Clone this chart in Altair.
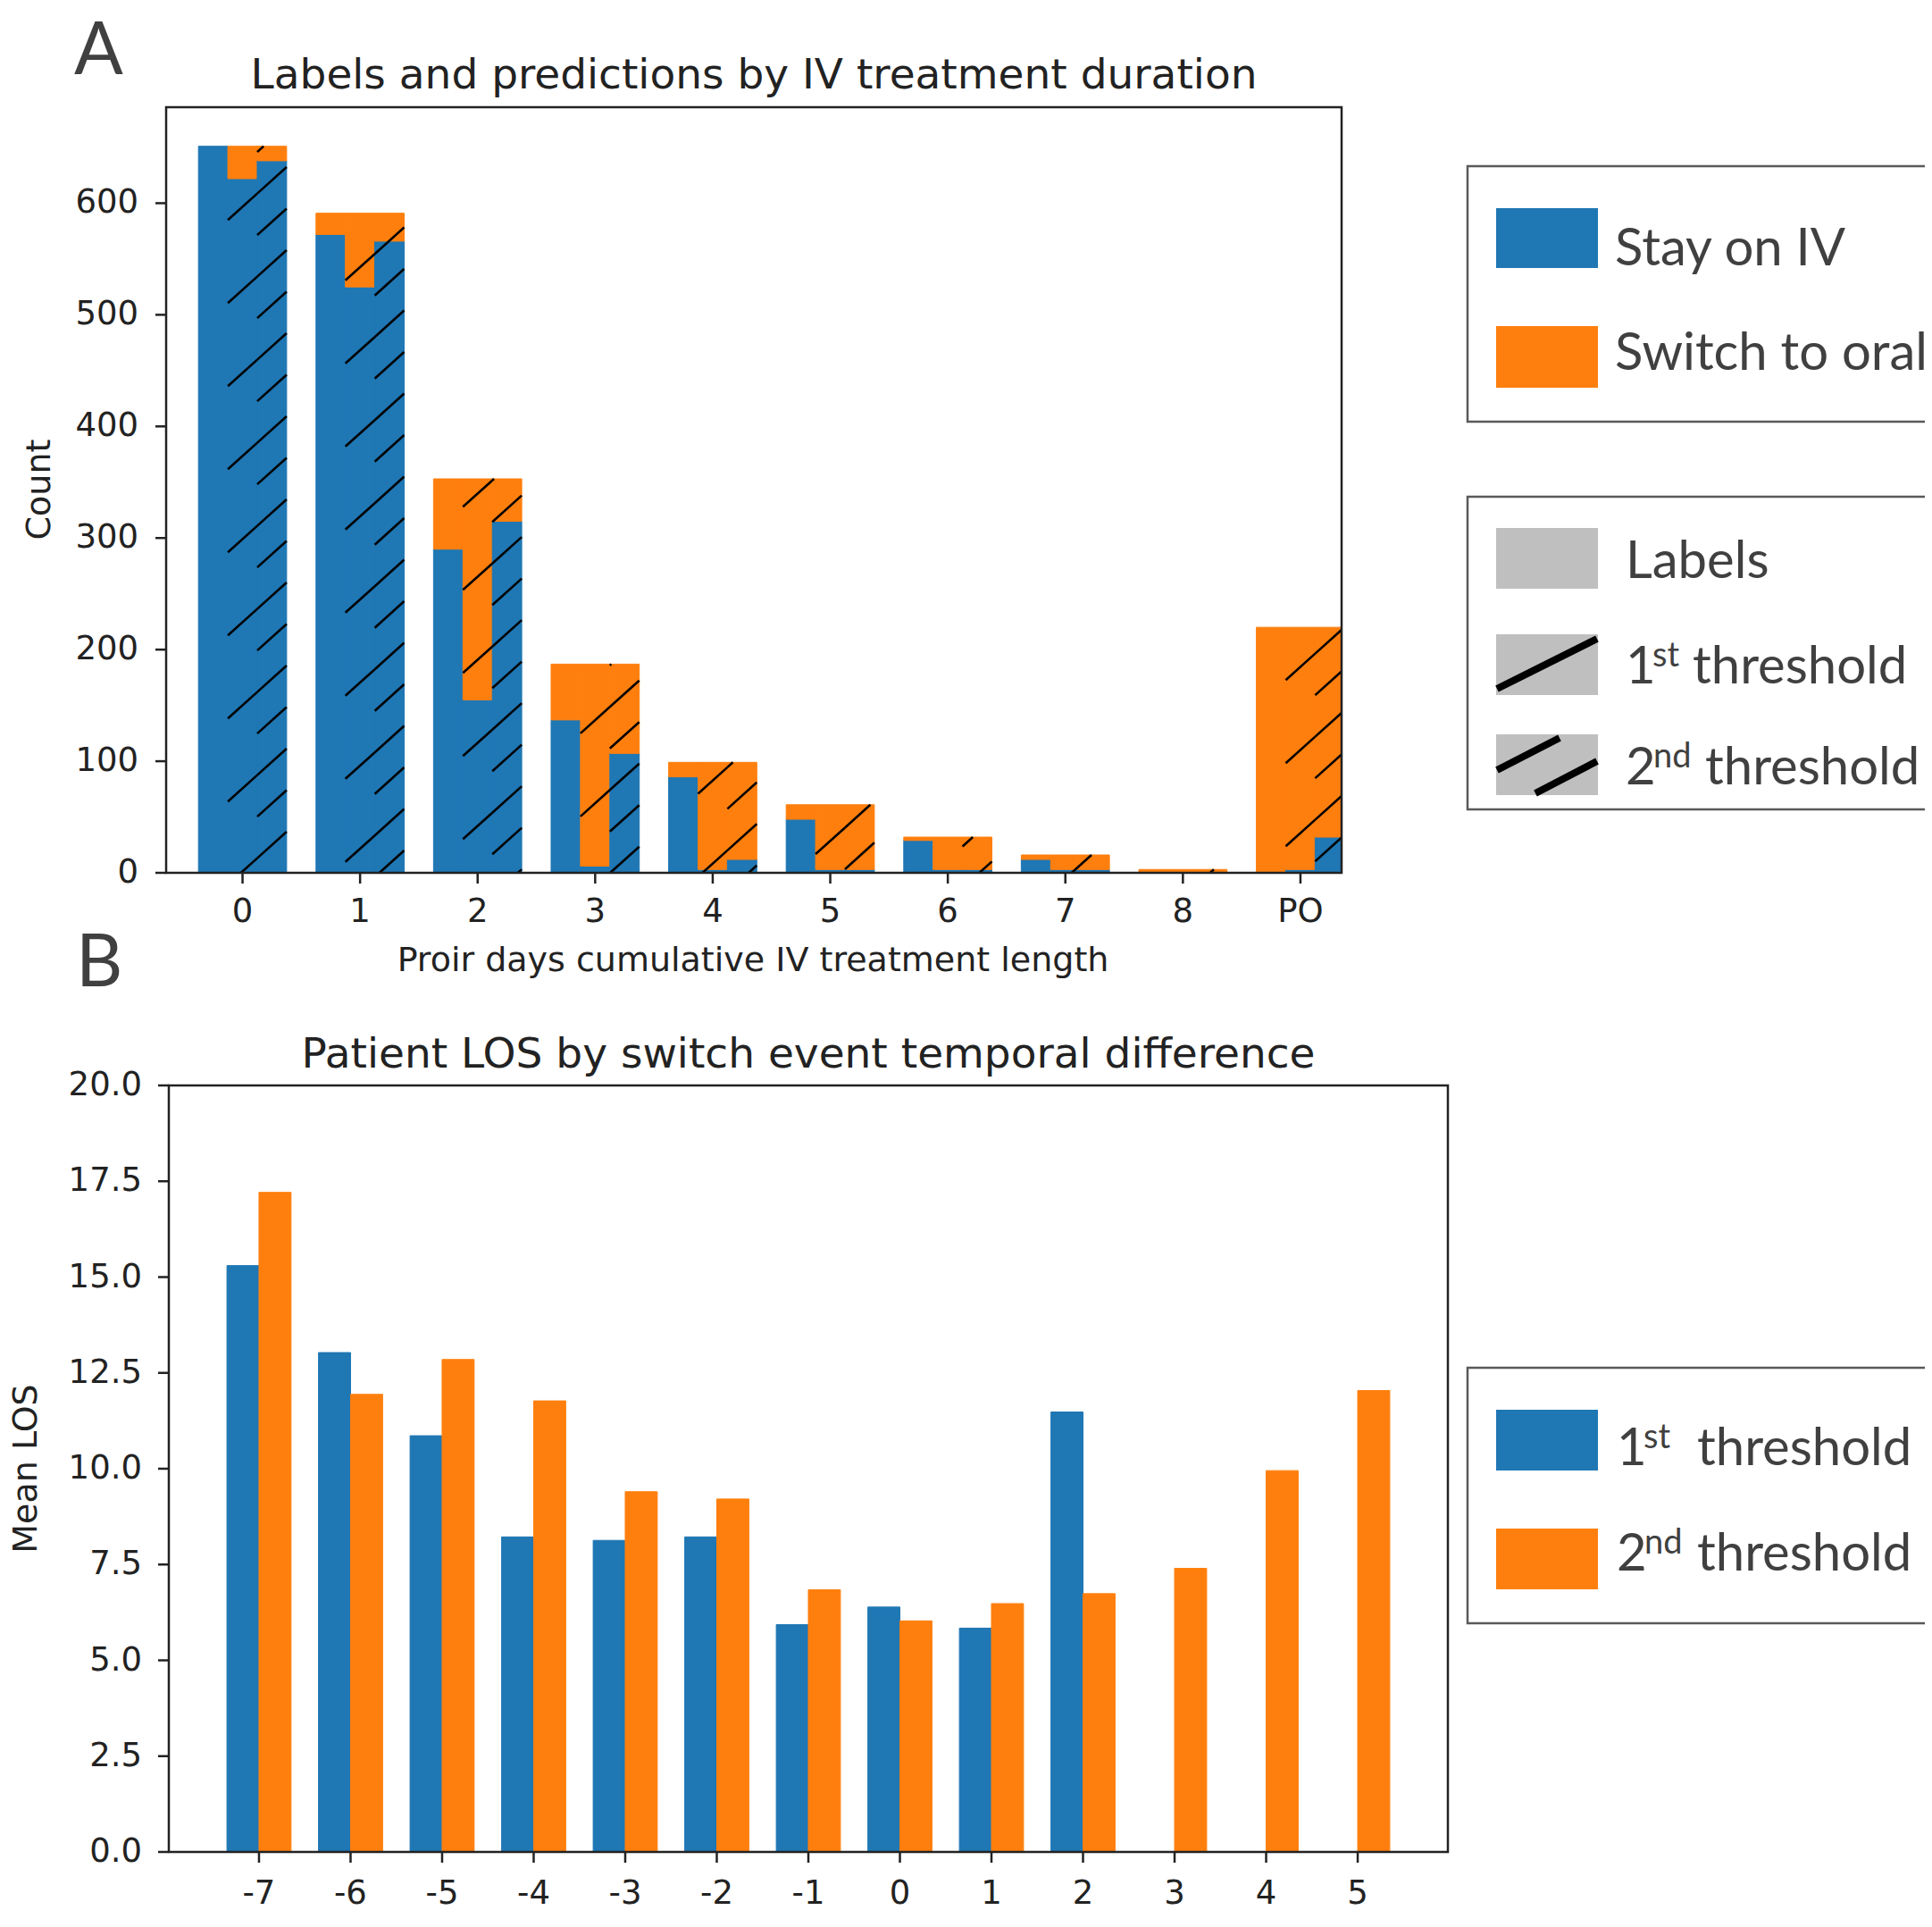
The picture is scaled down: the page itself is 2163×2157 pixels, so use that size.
import math
import altair as alt
import pandas as pd

# ---------------- data : panel A ----------------
iv_days = ["0", "1", "2", "3", "4", "5", "6", "7", "8", "PO"]
bar_kinds = ["Labels", "1st threshold", "2nd threshold"]
classes = ["Stay on IV", "Switch to oral"]
group_total = [651, 591, 353, 187, 99, 61, 32, 16, 3, 220]
labels_stay = [651, 572, 290, 137, 86, 48, 29, 12, 0, 0]
thr1_stay = [622, 525, 155, 6, 3, 3, 3, 3, 0, 3]
thr2_stay = [638, 566, 315, 107, 12, 3, 3, 3, 0, 32]
count_ticks = [0, 100, 200, 300, 400, 500, 600]

# ---------------- data : panel B ----------------
day_diff = [-7, -6, -5, -4, -3, -2, -1, 0, 1, 2, 3, 4, 5]
los_thr1 = [15.3, 13.03, 10.86, 8.22, 8.13, 8.22, 5.93, 6.39, 5.84, 11.48, None, None, None]
los_thr2 = [17.21, 11.94, 12.85, 11.77, 9.40, 9.21, 6.84, 6.03, 6.48, 6.74, 7.40, 9.95, 12.04]
series_b = ["1st threshold", "2nd threshold"]
los_ticks = [0, 2.5, 5, 7.5, 10, 12.5, 15, 17.5, 20]

BLUE = "#1f77b4"
ORANGE = "#ff7f0e"
INK = "#222222"
GREY_TXT = "#404040"
TICK_FONT = 37

# ---------------- layout (plot pixels) ----------------
W, H = 2147, 2138
A_XDOM, A_YDOM = [-0.65, 9.35], [0, 686]
A_XR, A_YR = [178, 1494], [969, 112]
B_XDOM, B_YDOM = [-7.985, 5.985], [0, 20]
B_XR, B_YR = [181, 1613], [2065, 1207]
A_W = 0.25
A_OFF = [-0.25, 0.0, 0.25]
B_W = 0.35
TICK_LEN = 12

# ---------------- panel A rectangles ----------------
rows = []
bars_geo = []
for gi, g in enumerate(iv_days):
    stays = [labels_stay[gi], thr1_stay[gi], thr2_stay[gi]]
    for bi, kind in enumerate(bar_kinds):
        xc = gi + A_OFF[bi]
        x0 = xc - A_W / 2
        x1 = min(xc + A_W / 2, A_XDOM[1])
        tot = group_total[gi]
        st = stays[bi]
        if st > 0:
            rows.append(dict(x0=x0, x1=x1, y0=0, y1=st, cls=classes[0], kind=kind, day=g))
        if tot - st > 0:
            rows.append(dict(x0=x0, x1=x1, y0=st, y1=tot, cls=classes[1], kind=kind, day=g))
        bars_geo.append((bi, x0, x1, tot))
dfA = pd.DataFrame(rows)


def ax_px(x):
    return A_XR[0] + (x - A_XDOM[0]) / (A_XDOM[1] - A_XDOM[0]) * (A_XR[1] - A_XR[0])


def ay_px(y):
    return A_YR[0] + (y - A_YDOM[0]) / (A_YDOM[1] - A_YDOM[0]) * (A_YR[1] - A_YR[0])


def ax_val(p):
    return A_XDOM[0] + (p - A_XR[0]) / (A_XR[1] - A_XR[0]) * (A_XDOM[1] - A_XDOM[0])


def ay_val(p):
    return A_YDOM[0] + (p - A_YR[0]) / (A_YR[1] - A_YR[0]) * (A_YDOM[1] - A_YDOM[0])


# hatch pattern (style): slope and spacing in screen pixels
H_SLOPE = 0.9
H_GAP = 93.0
H_ANCHOR = (1494.0, 697.0)
c0 = H_ANCHOR[1] + H_SLOPE * H_ANCHOR[0]
hrows = []
for bi, x0, x1, tot in bars_geo:
    if bi == 0 or tot <= 0:
        continue
    gap = H_GAP if bi == 1 else H_GAP / 2
    x0p, x1p = ax_px(x0), ax_px(x1)
    ytop, ybot = ay_px(tot), ay_px(0)
    kmin = math.ceil((ytop + H_SLOPE * x0p - c0) / gap)
    kmax = math.floor((ybot + H_SLOPE * x1p - c0) / gap)
    for k in range(kmin, kmax + 1):
        c = c0 + k * gap
        pa = max(x0p, (c - ybot) / H_SLOPE)
        pb = min(x1p, (c - ytop) / H_SLOPE)
        if pb - pa > 0.5:
            hrows.append(dict(x0=ax_val(pa), y0=ay_val(c - H_SLOPE * pa),
                              x1=ax_val(pb), y1=ay_val(c - H_SLOPE * pb)))
dfH = pd.DataFrame(hrows)

# ---------------- panel B rectangles ----------------
brows = []
for i, d in enumerate(day_diff):
    for si, (s, vals) in enumerate(zip(series_b, [los_thr1, los_thr2])):
        v = vals[i]
        if v is None:
            continue
        x0 = d - B_W if si == 0 else d
        brows.append(dict(x0=x0, x1=x0 + B_W, y0=0, y1=v, ser=s, day=d))
dfB = pd.DataFrame(brows)

sAx = alt.Scale(domain=A_XDOM, range=A_XR, nice=False, zero=False)
sAy = alt.Scale(domain=A_YDOM, range=A_YR, nice=False, zero=False)
sBx = alt.Scale(domain=B_XDOM, range=B_XR, nice=False, zero=False)
sBy = alt.Scale(domain=B_YDOM, range=B_YR, nice=False, zero=False)


def X(f, s):
    return alt.X(f, scale=s, axis=None)


def Y(f, s):
    return alt.Y(f, scale=s, axis=None)


def axis_layers(xvals, xlabs, yvals, ylabs, sx, sy, xr, yr, xlab_y, ylab_x):
    dx = pd.DataFrame(dict(v=xvals, lab=xlabs))
    dy = pd.DataFrame(dict(v=yvals, lab=ylabs))
    xt = alt.Chart(dx).mark_rule(color=INK, strokeWidth=2.5).encode(
        x=X("v:Q", sx), y=alt.value(yr[0]), y2=alt.value(yr[0] + TICK_LEN))
    xl = alt.Chart(dx).mark_text(font="DejaVu Sans", fontSize=TICK_FONT, color=INK,
                                 align="center", baseline="middle").encode(
        x=X("v:Q", sx), y=alt.value(xlab_y), text="lab:N")
    yt = alt.Chart(dy).mark_rule(color=INK, strokeWidth=2.5).encode(
        y=Y("v:Q", sy), x=alt.value(xr[0] - TICK_LEN), x2=alt.value(xr[0]))
    yl = alt.Chart(dy).mark_text(font="DejaVu Sans", fontSize=TICK_FONT, color=INK,
                                 align="right", baseline="middle").encode(
        y=Y("v:Q", sy), x=alt.value(ylab_x), text="lab:N")
    return [xt, xl, yt, yl]


barsA = alt.Chart(dfA).mark_rect(strokeWidth=1).encode(
    x=X("x0:Q", sAx), x2="x1:Q", y=Y("y0:Q", sAy), y2="y1:Q",
    color=alt.Color("cls:N", scale=alt.Scale(domain=classes, range=[BLUE, ORANGE]), legend=None),
    stroke=alt.Stroke("cls:N", scale=alt.Scale(domain=classes, range=[BLUE, ORANGE]), legend=None),
)
hatchA = alt.Chart(dfH).mark_rule(color="black", strokeWidth=2.6).encode(
    x=X("x0:Q", sAx), x2="x1:Q", y=Y("y0:Q", sAy), y2="y1:Q",
)
frameA_df = pd.DataFrame(dict(x0=[A_XDOM[0]], x1=[A_XDOM[1]], y0=[A_YDOM[0]], y1=[A_YDOM[1]]))
frameA = alt.Chart(frameA_df).mark_rect(fillOpacity=0, stroke=INK, strokeWidth=2.5).encode(
    x=X("x0:Q", sAx), x2="x1:Q", y=Y("y0:Q", sAy), y2="y1:Q",
)
axesA = axis_layers(list(range(len(iv_days))), iv_days, count_ticks, [str(v) for v in count_ticks],
                    sAx, sAy, A_XR, A_YR, xlab_y=1013, ylab_x=147)
panelA = alt.layer(barsA, hatchA, frameA, *axesA)

barsB = alt.Chart(dfB).mark_rect(strokeWidth=1).encode(
    x=X("x0:Q", sBx), x2="x1:Q", y=Y("y0:Q", sBy), y2="y1:Q",
    color=alt.Color("ser:N", scale=alt.Scale(domain=series_b, range=[BLUE, ORANGE]), legend=None),
    stroke=alt.Stroke("ser:N", scale=alt.Scale(domain=series_b, range=[BLUE, ORANGE]), legend=None),
)
frameB_df = pd.DataFrame(dict(x0=[B_XDOM[0]], x1=[B_XDOM[1]], y0=[B_YDOM[0]], y1=[B_YDOM[1]]))
frameB = alt.Chart(frameB_df).mark_rect(fillOpacity=0, stroke=INK, strokeWidth=2.5).encode(
    x=X("x0:Q", sBx), x2="x1:Q", y=Y("y0:Q", sBy), y2="y1:Q",
)
axesB = axis_layers(day_diff, [str(v) for v in day_diff], los_ticks, ["%.1f" % v for v in los_ticks],
                    sBx, sBy, B_XR, B_YR, xlab_y=2112, ylab_x=151)
panelB = alt.layer(barsB, frameB, *axesB)

# ---------------- legends and titles (pixel placed) ----------------
leg_boxes = pd.DataFrame(dict(x0=[1635, 1635, 1635], x1=[2170, 2170, 2170],
                              y0=[178, 548, 1523], y1=[464, 898, 1809]))
leg_sw = pd.DataFrame(dict(
    x0=[1667] * 7, x1=[1781] * 7,
    y0=[225, 357, 583, 702, 814, 1570, 1703],
    y1=[292, 426, 651, 770, 882, 1638, 1771],
    c=[BLUE, ORANGE, "#bfbfbf", "#bfbfbf", "#bfbfbf", BLUE, ORANGE]))
leg_stripes = pd.DataFrame(dict(x0=[1668, 1668, 1711], y0=[763, 854, 880],
                                x1=[1780, 1738, 1780], y1=[707, 818, 844]))
leg_txt = pd.DataFrame(dict(
    t=["Stay on IV", "Switch to oral", "Labels",
       "1", "st", "threshold", "2", "nd", "threshold",
       "1", "st", "threshold", "2", "nd", "threshold"],
    x=[1800, 1800, 1812,
       1812, 1842, 1887, 1812, 1843, 1901,
       1802, 1832, 1892, 1802, 1833, 1892],
    y=[289, 406, 639,
       757, 738, 757, 870, 851, 870,
       1632, 1613, 1632, 1750, 1731, 1750],
    s=[58, 58, 58, 58, 38, 58, 58, 38, 58, 58, 38, 58, 58, 38, 58]))
panel_letters = pd.DataFrame(dict(t=["A", "B"], x=[75, 77], y=[75, 1096]))
panel_titles = pd.DataFrame(dict(t=["Labels and predictions by IV treatment duration",
                                    "Patient LOS by switch event temporal difference"],
                                 x=[836, 897], y=[91, 1187]))
x_titles = pd.DataFrame(dict(t=["Proir days cumulative IV treatment length",
                                "Number of days between predicted and actual switch event"],
                             x=[835, 897], y=[1068, 2162]))
y_titles = pd.DataFrame(dict(t=["Count", "Mean LOS"], x=[37, 22], y=[540, 1636]))

pxX = lambda f: alt.X(f, scale=None, axis=None)
pxY = lambda f: alt.Y(f, scale=None, axis=None)

boxes = alt.Chart(leg_boxes).mark_rect(fillOpacity=0, stroke="#595959", strokeWidth=2.5).encode(
    x=pxX("x0:Q"), x2="x1:Q", y=pxY("y0:Q"), y2="y1:Q")
swatches = alt.Chart(leg_sw).mark_rect().encode(
    x=pxX("x0:Q"), x2="x1:Q", y=pxY("y0:Q"), y2="y1:Q", color=alt.Color("c:N", scale=None))
stripes = alt.Chart(leg_stripes).mark_rule(color="black", strokeWidth=8).encode(
    x=pxX("x0:Q"), x2="x1:Q", y=pxY("y0:Q"), y2="y1:Q")
texts = alt.Chart(leg_txt).mark_text(align="left", baseline="alphabetic", font="Lato",
                                     color=GREY_TXT).encode(
    x=pxX("x:Q"), y=pxY("y:Q"), text="t:N", size=alt.Size("s:Q", scale=None))
letters = alt.Chart(panel_letters).mark_text(align="left", baseline="alphabetic", font="Lato",
                                             fontSize=81, color=GREY_TXT).encode(
    x=pxX("x:Q"), y=pxY("y:Q"), text="t:N")
titles = alt.Chart(panel_titles).mark_text(align="center", baseline="alphabetic",
                                           font="DejaVu Sans", fontSize=47, color=INK).encode(
    x=pxX("x:Q"), y=pxY("y:Q"), text="t:N")
xtitles = alt.Chart(x_titles).mark_text(align="center", baseline="middle",
                                        font="DejaVu Sans", fontSize=38, color=INK).encode(
    x=pxX("x:Q"), y=pxY("y:Q"), text="t:N")
ytitles = alt.Chart(y_titles).mark_text(align="center", baseline="middle", angle=270,
                                        font="DejaVu Sans", fontSize=38, color=INK).encode(
    x=pxX("x:Q"), y=pxY("y:Q"), text="t:N")

chart = alt.layer(panelA, panelB, boxes, swatches, stripes, texts, letters, titles,
                  xtitles, ytitles).resolve_scale(
    x="independent", y="independent", color="independent", stroke="independent"
).properties(
    width=W, height=H, padding=0, autosize=alt.AutoSizeParams(type="none")
).configure_view(strokeWidth=0)

chart.save("out.html", embed_options={"renderer": "svg", "actions": False})
